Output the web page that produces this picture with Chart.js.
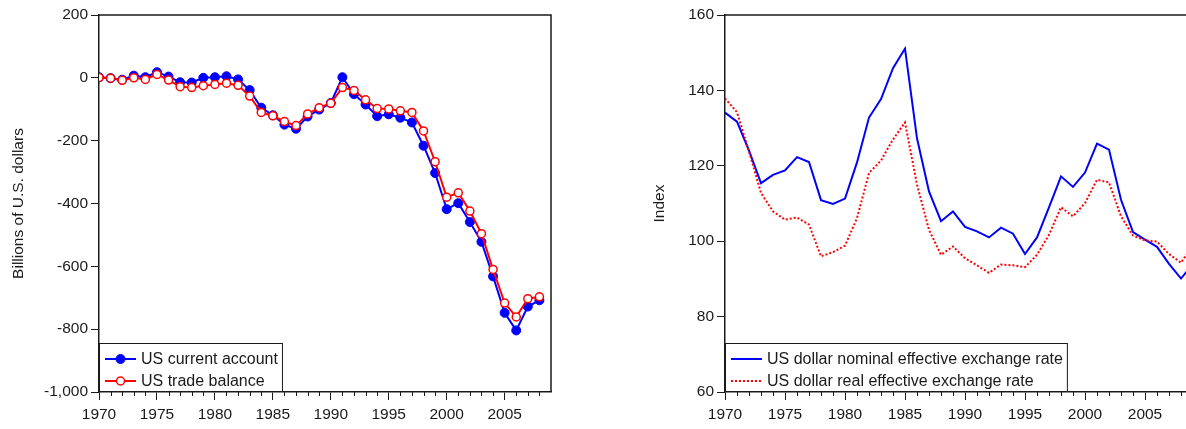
<!DOCTYPE html>
<html>
<head>
<meta charset="utf-8">
<script src="https://cdn.jsdelivr.net/npm/chart.js@4"></script>
<style>
  body { margin: 0; overflow: hidden; background: #fff; width: 1186px; height: 429px; position: relative; }
  canvas { position: absolute; top: 0; }
  #balance { left: 0; }
  #rates { left: 620px; }
</style>
</head>
<body>
<canvas id="balance" width="560" height="429"></canvas>
<canvas id="rates" width="590" height="429"></canvas>
<script>
// left panel: billions of US dollars, 1970-2008
const balanceYears = []
for (let y = 1970; y <= 2008; y++) balanceYears.push(y)
const currentAccount = [2, -1, -6, 7, 2, 18, 4, -14, -15, 0,
    2, 5, -5, -39, -95, -119, -149, -162, -123, -101,
    -80, 2, -52, -85, -122, -116, -127, -142, -216, -303,
    -418, -399, -459, -522, -632, -748, -804, -728, -708]
const tradeBalance = [1, -1, -8, 0, -5, 11, -7, -28, -31, -25,
    -21, -17, -24, -58, -110, -121, -139, -152, -115, -95,
    -81, -31, -40, -70, -98, -99, -105, -110, -169, -267,
    -380, -366, -424, -496, -610, -717, -761, -703, -697]

// right panel: index, 1970-2009
const rateYears = []
for (let y = 1970; y <= 2009; y++) rateYears.push(y)
const nominalRate = [134.1, 131.7, 124.0, 115.4, 117.6, 118.8, 122.3, 121.0, 110.9, 109.9,
    111.3, 120.9, 132.8, 137.7, 145.9, 151.1, 127.3, 113.2, 105.3, 107.9,
    103.8, 102.6, 101.0, 103.6, 102.0, 96.6, 101.0, 109.0, 117.2, 114.4,
    118.2, 125.9, 124.3, 111.0, 102.4, 100.4, 98.5, 94.0, 90.1, 94.0]
const realRate = [137.9, 134.2, 123.8, 112.8, 107.9, 105.7, 106.3, 104.4, 96.0, 97.1,
    98.8, 106.1, 118.1, 121.4, 127.0, 131.5, 115.0, 103.0, 96.4, 98.6,
    95.5, 93.6, 91.6, 93.8, 93.6, 93.1, 96.4, 101.7, 109.0, 106.6,
    110.1, 116.3, 115.6, 106.6, 101.5, 100.2, 99.9, 96.6, 94.3, 99.0]

const balanceTicks = [200, 0, -200, -400, -600, -800, -1000]
const rateTicks = [160, 140, 120, 100, 80, 60]
const yearTicks = [1970, 1975, 1980, 1985, 1990, 1995, 2000, 2005]

const FONT = 'Liberation Sans, Arial, sans-serif'
const INK = '#1a1a1a'

function pairs(xs, ys) {
    return xs.map((x, i) => ({x, y: ys[i]}))
}

const boxPlugin = {
    id: 'boxPlugin',
    afterDraw(chart) {
        const {ctx, chartArea: a} = chart
        const x = chart.scales.x
        ctx.save()
        ctx.strokeStyle = INK
        ctx.lineWidth = 1.5
        ctx.beginPath()
        ctx.moveTo(a.left, a.top)
        ctx.lineTo(a.right, a.top)
        ctx.lineTo(a.right, a.bottom)
        ctx.stroke()

        // one small tick per year
        ctx.lineWidth = 1
        ctx.beginPath()
        for (let yr = 1971; yr < x.max; yr++) {
            if (yr % 5 === 0) continue
            const px = Math.round(x.getPixelForValue(yr)) + 0.5
            ctx.moveTo(px, a.bottom)
            ctx.lineTo(px, a.bottom + 4)
        }
        ctx.stroke()

        // legend box in the lower left corner
        ctx.font = '16px ' + FONT
        const sets = chart.data.datasets
        let w = 0
        sets.forEach(d => { w = Math.max(w, ctx.measureText(d.label).width) })
        const left = a.left, top = a.bottom - 49
        const right = left + 42 + w + 5
        ctx.fillStyle = '#fff'
        ctx.fillRect(left, top, right - left, a.bottom - top)
        ctx.strokeStyle = INK
        ctx.lineWidth = 1
        ctx.strokeRect(left + 0.5, top + 0.5, right - left - 1, a.bottom - top - 1)
        const rows = [a.bottom - 33, a.bottom - 11]
        sets.forEach((d, i) => {
            const cy = rows[i]
            ctx.strokeStyle = d.borderColor
            ctx.lineWidth = d.borderWidth
            ctx.setLineDash(d.borderDash || [])
            ctx.beginPath()
            ctx.moveTo(left + 6, cy)
            ctx.lineTo(left + 37, cy)
            ctx.stroke()
            ctx.setLineDash([])
            if (d.pointRadius) {
                ctx.beginPath()
                ctx.arc(left + 21.5, cy, d.pointRadius, 0, Math.PI * 2)
                ctx.fillStyle = d.pointBackgroundColor
                ctx.fill()
                ctx.lineWidth = d.pointBorderWidth
                ctx.strokeStyle = d.pointBorderColor
                ctx.stroke()
            }
            ctx.fillStyle = INK
            ctx.textBaseline = 'middle'
            ctx.fillText(d.label, left + 42, cy + 1)
        })
        ctx.restore()
    }
}

function makeScales(yMin, yMax, yTicks, yTitle, yWidth, titlePad, xMax, fmt) {
    return {
        x: {
            type: 'linear', min: 1970, max: xMax,
            afterBuildTicks: s => { s.ticks = yearTicks.map(v => ({value: v})) },
            afterFit: s => { s.height = 37 },
            ticks: { color: INK, font: {family: FONT, size: 15.5}, padding: 5, maxRotation: 0,
                     callback: v => String(v) },
            grid: { drawOnChartArea: false, tickLength: 8, tickColor: INK, tickWidth: 1 },
            border: { color: INK, width: 1.5 }
        },
        y: {
            min: yMin, max: yMax,
            afterBuildTicks: s => { s.ticks = yTicks.map(v => ({value: v})) },
            afterFit: s => { s.width = yWidth },
            ticks: { color: INK, font: {family: FONT, size: 15.5}, padding: 3, callback: fmt },
            grid: { drawOnChartArea: false, tickLength: 8, tickColor: INK, tickWidth: 1 },
            border: { color: INK, width: 1.5 },
            title: { display: true, text: yTitle, color: INK, font: {family: FONT, size: 15.5},
                     padding: {top: titlePad, bottom: 0} }
        }
    }
}

const common = {
    responsive: false,
    animation: false,
    devicePixelRatio: 1,
    plugins: { legend: {display: false}, tooltip: {enabled: false} }
}

new Chart(document.getElementById('balance'), {
    type: 'line',
    data: {
        datasets: [{
            label: 'US current account',
            data: pairs(balanceYears, currentAccount),
            borderColor: '#0000ff', borderWidth: 2,
            pointRadius: 4.5, pointBackgroundColor: '#0000ff', pointBorderColor: '#0000ff', pointBorderWidth: 1,
            order: 2
        }, {
            label: 'US trade balance',
            data: pairs(balanceYears, tradeBalance),
            borderColor: '#ff0000', borderWidth: 2,
            pointRadius: 4, pointBackgroundColor: '#fff', pointBorderColor: '#ff0000', pointBorderWidth: 1.5,
            order: 1
        }]
    },
    options: {
        ...common,
        layout: { padding: {top: 15, right: 9, left: 0, bottom: 0} },
        scales: makeScales(-1000, 200, balanceTicks, 'Billions of U.S. dollars', 99, 9, 2009,
            v => v.toLocaleString('en-US'))
    },
    plugins: [boxPlugin]
})

new Chart(document.getElementById('rates'), {
    type: 'line',
    data: {
        datasets: [{
            label: 'US dollar nominal effective exchange rate',
            data: pairs(rateYears, nominalRate),
            borderColor: '#0000ff', borderWidth: 2, pointRadius: 0,
            order: 2
        }, {
            label: 'US dollar real effective exchange rate',
            data: pairs(rateYears, realRate),
            borderColor: '#ff0000', borderWidth: 2, borderDash: [2, 2], pointRadius: 0,
            order: 1
        }]
    },
    options: {
        ...common,
        layout: { padding: {top: 15, right: 17, left: 0, bottom: 0} },
        scales: makeScales(60, 160, rateTicks, 'Index', 105, 30, 2009, v => String(v))
    },
    plugins: [boxPlugin]
})
</script>
</body>
</html>
